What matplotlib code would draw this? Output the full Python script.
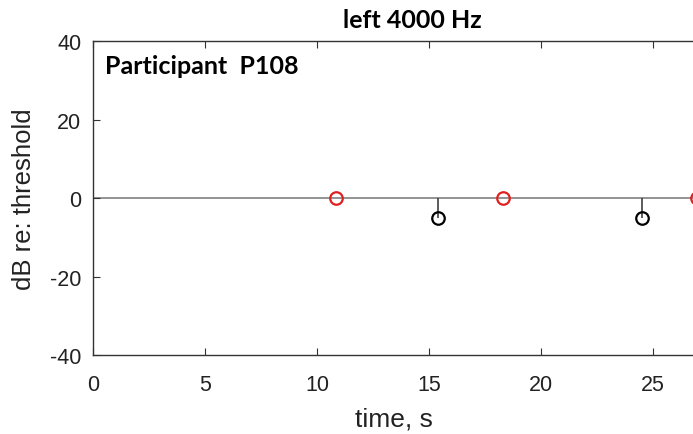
import matplotlib.pyplot as plt

# Catch trials (red) and detected tones (black) for one ear / frequency
catch_times = [10.85, 18.3, 26.95]
catch_levels = [0, 0, 0]
tone_times = [15.4, 24.5]
tone_levels = [-5, -5]

x_ticks = [0, 5, 10, 15, 20, 25]
y_ticks = [-40, -20, 0, 20, 40]

plt.rcParams['font.family'] = ['Liberation Sans', 'DejaVu Sans']
plt.rcParams['axes.unicode_minus'] = False

fig = plt.figure(figsize=(6.93, 4.35), dpi=100)
# axis runs past the right edge of the figure
ax = fig.add_axes([93 / 693, 1 - 356 / 435, 672 / 693, 314 / 435])
ax.set_xlim(0, 30)
ax.set_ylim(-40, 40)

ax.axhline(0, color='#808080', lw=1.2, zorder=1)
ax.vlines(tone_times, tone_levels, 0, color='#404040', lw=1.2, zorder=2)
ax.plot(tone_times, tone_levels, 'o', ms=9, mfc='none', mec='black', mew=1.6, zorder=3)
ax.plot(catch_times, catch_levels, 'o', ms=9, mfc='none', mec='#e02020', mew=1.6,
        zorder=3, clip_on=False)

ax.set_xticks(x_ticks)
ax.set_yticks(y_ticks)
ax.tick_params(direction='in', length=5, labelsize=15.5, top=True, right=True,
               colors='#333333', labelcolor='#222222')
ax.tick_params(axis='x', pad=14)
ax.tick_params(axis='y', pad=8.5)
for s in ax.spines.values():
    s.set_color('#333333')
    s.set_linewidth(1.0)

ax.set_xlabel('time, s', fontsize=19, color='#222222')
ax.xaxis.set_label_coords(0.448, -0.165)
ax.set_ylabel('dB re: threshold', fontsize=18.5, color='#222222')
ax.yaxis.set_label_coords(-0.0855, 0.5)

fig.text(412 / 693, 1 - 20 / 435, 'left 4000 Hz', ha='center', va='center',
         fontsize=18, fontweight='bold', family='Lato')
ax.text(0.018, 0.96, 'Participant  P108', transform=ax.transAxes, ha='left', va='top',
        fontsize=18, fontweight='bold', family='Lato')

fig.savefig('out.png', dpi=100)
